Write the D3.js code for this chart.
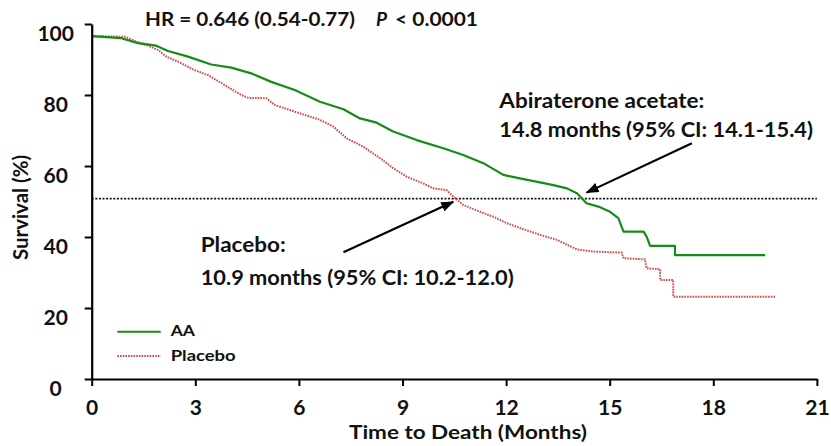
<!DOCTYPE html>
<html>
<head>
<meta charset="utf-8">
<script src="https://cdn.jsdelivr.net/npm/d3@7"></script>
<style>
  html, body { margin: 0; padding: 0; background: #fff; }
  svg { display: block; font-family: Lato, "Open Sans", sans-serif; font-weight: 700; }
</style>
</head>
<body>
<svg id="chart" width="831" height="446"></svg>
<script>
// Kaplan-Meier overall survival, abiraterone acetate (AA) vs placebo
const aaMonths   = [0, 0.86, 1.34, 1.87, 2.21, 2.79, 3.46, 4.04, 4.62, 5.20, 5.88, 6.61, 7.29, 7.77, 8.25, 8.73, 9.41, 10.18, 10.76, 11.34, 11.92, 12.40, 12.98, 13.37, 13.76, 14.05, 14.24, 14.33, 14.72, 15.01, 15.25, 15.40, 15.98, 16.07, 16.17, 16.89, 16.89, 19.5];
const aaSurvival = [96.6, 96.0, 94.6, 93.9, 92.4, 90.8, 88.6, 87.7, 86.1, 83.7, 81.4, 78.1, 76.0, 73.4, 72.2, 69.7, 67.3, 65.0, 63.1, 60.8, 57.5, 56.5, 55.4, 54.6, 53.7, 52.3, 50.4, 49.5, 48.4, 47.1, 45.3, 41.5, 41.5, 40.1, 37.5, 37.5, 34.9, 34.9];

const pboMonths   = [0, 0.96, 1.25, 1.63, 1.92, 2.16, 2.50, 2.98, 3.37, 3.85, 4.33, 4.53, 5.06, 5.30, 5.88, 6.61, 7.00, 7.38, 7.87, 8.35, 8.73, 9.12, 9.60, 9.89, 10.28, 10.47, 10.76, 11.25, 11.63, 12.02, 12.50, 12.98, 13.47, 14.05, 14.53, 15.35, 15.40, 16.02, 16.07, 16.46, 16.46, 16.84, 16.84, 19.79];
const pboSurvival = [96.6, 96.4, 95.2, 93.9, 92.7, 90.8, 89.4, 87.0, 85.6, 82.8, 80.0, 79.2, 79.1, 77.2, 75.3, 73.0, 71.1, 67.8, 65.4, 62.2, 59.4, 57.0, 55.1, 53.7, 53.2, 51.4, 49.0, 47.1, 45.7, 43.9, 42.2, 40.6, 39.2, 36.5, 35.9, 35.6, 34.0, 33.7, 31.2, 30.9, 27.9, 27.9, 23.2, 23.2];

const xTicks = [0, 3, 6, 9, 12, 15, 18, 21];
const yTicks = [0, 20, 40, 60, 80, 100];
const medianLevel = 50.8;

const seriesNames = ["AA", "Placebo"];
const hrText = "HR = 0.646 (0.54-0.77)";
const pText = "P";
const pRest = "< 0.0001";
const aaNote = ["Abiraterone acetate:", "14.8 months (95% CI: 14.1-15.4)"];
const pboNote = ["Placebo:", "10.9 months (95% CI: 10.2-12.0)"];
const xTitle = "Time to Death (Months)";
const yTitle = "Survival (%)";

const GREEN = "#168c18";
const RED = "#d24a4a";

const svg = d3.select("#chart");

const x = d3.scaleLinear().domain([0, 21]).range([91.7, 816.9]);
const y = d3.scaleLinear().domain([0, 100]).range([379, 24]);

// Text helper: fixed font size, glyphs stretched to a given run length
function label(parent, str, px, py, size, len, opts = {}) {
  const t = parent.append("text")
    .attr("x", px).attr("y", py)
    .attr("fill", "#111")
    .style("font-size", size + "px")
    .text(str);
  if (len) t.attr("textLength", len).attr("lengthAdjust", "spacingAndGlyphs");
  if (opts.italic) t.style("font-style", "italic");
  if (opts.anchor) t.attr("text-anchor", opts.anchor);
  return t;
}

// 50% reference line
svg.append("line")
  .attr("x1", x(0)).attr("x2", x(21))
  .attr("y1", y(medianLevel)).attr("y2", y(medianLevel))
  .attr("stroke", "#111").attr("stroke-width", 1.6)
  .attr("stroke-dasharray", "2,1.6");

// Survival curves
const line = d3.line().x(d => x(d[0])).y(d => y(d[1])).curve(d3.curveLinear);
const aaData = aaMonths.map((m, i) => [m, aaSurvival[i]]);
const pboData = pboMonths.map((m, i) => [m, pboSurvival[i]]);

svg.append("path").datum(pboData)
  .attr("d", line).attr("fill", "none")
  .attr("stroke", RED).attr("stroke-width", 2)
  .attr("stroke-dasharray", "1.6,1.1");

svg.append("path").datum(aaData)
  .attr("d", line).attr("fill", "none")
  .attr("stroke", GREEN).attr("stroke-width", 2.2)
  .attr("stroke-linejoin", "round");

// Axes
const xAxis = d3.axisBottom(x).tickValues(xTicks).tickSize(7).tickSizeOuter(0).tickFormat(d3.format("d"));
const yAxis = d3.axisLeft(y).tickValues(yTicks).tickSize(7).tickSizeOuter(0).tickFormat(d3.format("d"));

const gx = svg.append("g").attr("transform", `translate(0,${y(0)})`).call(xAxis);
const gy = svg.append("g").attr("transform", `translate(${x(0)},0)`).call(yAxis);

[gx, gy].forEach(g => {
  g.select(".domain").attr("stroke", "#000").attr("stroke-width", 2.2);
  g.selectAll(".tick line").attr("stroke", "#000").attr("stroke-width", 2);
  g.selectAll(".tick text")
    .attr("fill", "#111")
    .style("font-family", "Lato, sans-serif")
    .style("font-weight", 700)
    .style("font-size", "21px");
});
gx.selectAll(".tick text").attr("y", 0).attr("dy", 0).attr("transform", "translate(0,36)");
gy.selectAll(".tick text").attr("x", -36).attr("dy", 0).attr("text-anchor", "middle")
  .attr("transform", "translate(0,16.5)");

// Axis titles
label(svg, xTitle, 349, 439, 18.5, 238);

const yt = svg.append("g").attr("transform", "translate(28,260) rotate(-90) scale(1,1.15)");
label(yt, yTitle, 0, 0, 18.5, 105);

// Hazard ratio header
label(svg, hrText, 145, 26, 19, 210);
label(svg, pText, 376, 26, 19, null, { italic: true });
label(svg, pRest, 395, 26, 19, 83);

// Median annotations
label(svg, aaNote[0], 499.3, 108.3, 21.5, 205);
label(svg, aaNote[1], 499.3, 137.3, 21.5, 313.7);
label(svg, pboNote[0], 200.7, 251.7, 21.5, 85);
label(svg, pboNote[1], 200.7, 285, 21.5, 313);

// Arrows to the median crossings
const defs = svg.append("defs");
defs.append("marker")
  .attr("id", "arrowHead")
  .attr("viewBox", "0 0 13 10")
  .attr("refX", 12).attr("refY", 5)
  .attr("markerWidth", 13).attr("markerHeight", 10)
  .attr("markerUnits", "userSpaceOnUse")
  .attr("orient", "auto")
  .append("path").attr("d", "M0,0 L13,5 L0,10 Z").attr("fill", "#000");

const arrows = [
  { from: [17.38, 66.4], to: [14.33, 52.5] },
  { from: [7.29, 35.7], to: [10.47, 49.9] }
];
arrows.forEach(a => {
  svg.append("line")
    .attr("x1", x(a.from[0])).attr("y1", y(a.from[1]))
    .attr("x2", x(a.to[0])).attr("y2", y(a.to[1]))
    .attr("stroke", "#000").attr("stroke-width", 2.2)
    .attr("marker-end", "url(#arrowHead)");
});

// Legend
const legend = svg.append("g");
const legendRows = [
  { name: seriesNames[0], color: GREEN, dash: null, ly: 331.7, len: 24.3 },
  { name: seriesNames[1], color: RED, dash: "1.6,1.1", ly: 356, len: 65 }
];
legendRows.forEach(r => {
  legend.append("line")
    .attr("x1", 117.3).attr("x2", 160.7)
    .attr("y1", r.ly).attr("y2", r.ly)
    .attr("stroke", r.color).attr("stroke-width", 2)
    .attr("stroke-dasharray", r.dash);
  label(legend, r.name, 170.7, r.ly + 4.5, 16, r.len);
});
</script>
</body>
</html>
